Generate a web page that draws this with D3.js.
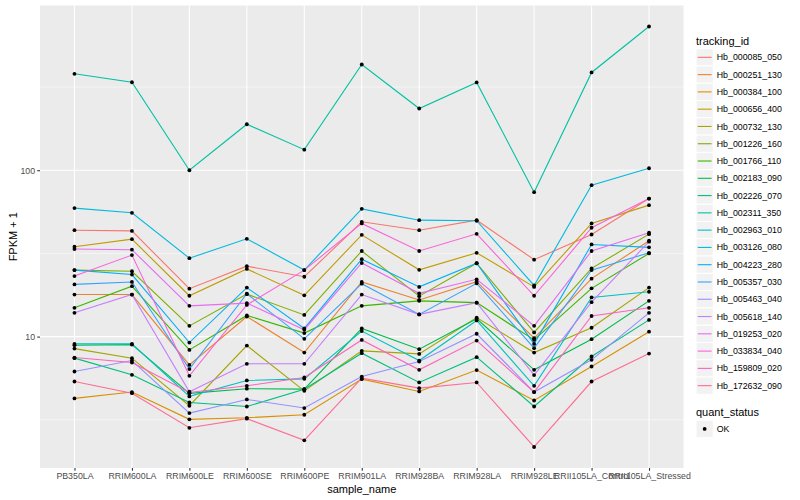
<!DOCTYPE html>
<html>
<head>
    <meta charset="utf-8">
    <title>FPKM by sample</title>
    <style>
        body {
            margin: 0;
            padding: 0;
            background: #ffffff;
        }
        svg {
            display: block;
            font-family: "Liberation Sans", Arial, sans-serif;
        }
        .grid-major {
            stroke: #ffffff;
            stroke-width: 1.07;
        }
        .grid-minor {
            stroke: #ffffff;
            stroke-width: 0.53;
        }
        .axis text {
            fill: #4d4d4d;
            font-size: 8.8px;
        }
        .axis line {
            stroke: #333333;
            stroke-width: 1.07;
        }
        .axis path {
            display: none;
        }
        .series-line {
            fill: none;
            stroke-width: 1.1;
        }
        .axis-title, .legend-title {
            font-size: 11px;
            fill: #000000;
        }
        .legend-text {
            font-size: 8.8px;
            fill: #000000;
        }
    </style>
</head>
<body>
    <svg id="chart" width="800" height="500"></svg>

    <script src="https://d3js.org/d3.v7.min.js"></script>
    <script>
        // categories on the x axis
        const sampleNames = [
            'PB350LA', 'RRIM600LA', 'RRIM600LE', 'RRIM600SE', 'RRIM600PE', 'RRIM901LA',
            'RRIM928BA', 'RRIM928LA', 'RRIM928LE', 'RRII105LA_Control', 'RRII105LA_Stressed'
        ];

        const trackingIds = [
            'Hb_000085_050', 'Hb_000251_130', 'Hb_000384_100', 'Hb_000656_400', 'Hb_000732_130',
            'Hb_001226_160', 'Hb_001766_110', 'Hb_002183_090', 'Hb_002226_070', 'Hb_002311_350',
            'Hb_002963_010', 'Hb_003126_080', 'Hb_004223_280', 'Hb_005357_030', 'Hb_005463_040',
            'Hb_005618_140', 'Hb_019253_020', 'Hb_033834_040', 'Hb_159809_020', 'Hb_172632_090'
        ];

        const quantStatus = ['OK'];

        // FPKM + 1, one value per sample
        const hb_000085_050 = [43.6, 43.2, 19.4, 26.5, 22.9, 49.0, 43.6, 50.1, 29.0, 41.1, 67.6];
        const hb_000251_130 = [17.9, 17.9, 6.76, 13.2, 8.02, 21.3, 16.6, 21.4, 9.78, 22.3, 37.7];
        const hb_000384_100 = [4.25, 4.64, 3.18, 3.25, 3.39, 5.55, 4.68, 6.29, 4.13, 6.61, 10.7];
        const hb_000656_400 = [34.7, 38.5, 17.6, 25.5, 17.7, 40.9, 25.2, 31.9, 19.9, 47.9, 61.7];
        const hb_000732_130 = [8.47, 7.42, 3.84, 8.83, 4.72, 8.21, 7.87, 13.0, 8.02, 11.3, 19.7];
        const hb_001226_160 = [25.1, 24.7, 11.6, 18.0, 13.5, 32.7, 17.5, 27.6, 10.6, 25.7, 41.3];
        const hb_001766_110 = [14.9, 20.1, 8.32, 13.4, 10.5, 15.3, 16.4, 16.0, 9.55, 19.5, 31.6];
        const hb_002183_090 = [8.88, 8.95, 4.56, 4.86, 4.83, 11.2, 8.40, 12.8, 6.31, 9.65, 16.4];
        const hb_002226_070 = [7.42, 5.89, 4.02, 3.80, 4.83, 7.95, 5.30, 7.52, 3.80, 7.59, 12.6];
        const hb_002311_350 = [380, 338, 100, 189, 133, 432, 235, 337, 73.8, 387, 731];
        const hb_002963_010 = [9.04, 9.04, 4.37, 5.45, 5.57, 10.8, 7.18, 12.5, 5.06, 17.2, 18.6];
        const hb_003126_080 = [59.2, 55.5, 29.6, 38.7, 25.1, 58.6, 50.1, 49.7, 20.3, 81.3, 102.8];
        const hb_004223_280 = [25.1, 23.6, 9.21, 19.7, 11.2, 29.2, 19.9, 27.6, 9.04, 35.8, 34.4];
        const hb_005357_030 = [20.6, 21.3, 6.38, 18.1, 9.69, 20.8, 13.6, 20.9, 8.52, 25.1, 31.9];
        const hb_005463_040 = [6.17, 7.18, 3.47, 4.19, 3.72, 5.75, 7.08, 10.4, 4.64, 7.25, 13.9];
        const hb_005618_140 = [13.9, 17.9, 4.66, 6.86, 6.86, 17.9, 13.6, 16.0, 5.87, 16.1, 37.2];
        const hb_019253_020 = [33.6, 33.3, 15.3, 15.9, 11.0, 27.7, 18.2, 22.1, 11.6, 32.7, 42.1];
        const hb_033834_040 = [23.1, 30.9, 5.81, 15.5, 25.1, 47.9, 32.7, 41.5, 17.6, 45.1, 67.6];
        const hb_159809_020 = [7.48, 6.98, 4.61, 5.06, 5.68, 9.55, 6.31, 9.46, 4.64, 13.3, 14.9];
        const hb_172632_090 = [5.37, 4.57, 2.83, 3.21, 2.38, 5.63, 4.90, 5.30, 2.17, 5.37, 7.91];

        const fpkmSeries = [
            hb_000085_050, hb_000251_130, hb_000384_100, hb_000656_400, hb_000732_130,
            hb_001226_160, hb_001766_110, hb_002183_090, hb_002226_070, hb_002311_350,
            hb_002963_010, hb_003126_080, hb_004223_280, hb_005357_030, hb_005463_040,
            hb_005618_140, hb_019253_020, hb_033834_040, hb_159809_020, hb_172632_090
        ];

        const yMajorTicks = [10, 100];

        // ggplot default hue palette for 20 levels
        const palette = [
            '#F8766D', '#EA8331', '#D89000', '#C09B00', '#A3A500', '#7CAE00', '#39B600',
            '#00BB4E', '#00BF7D', '#00C1A3', '#00BFC4', '#00BAE0', '#00B0F6', '#35A2FF',
            '#9590FF', '#C77CFF', '#E76BF3', '#FA62DB', '#FF62BC', '#FF6C91'
        ];

        const svg = d3.select('#chart');
        const panel = { left: 40, right: 683.5, top: 5.5, bottom: 468 };

        const x = d3.scalePoint()
            .domain(sampleNames)
            .range([panel.left, panel.right])
            .padding(0.6);

        // log scale with ggplot's 5% expansion in log space
        const allValues = fpkmSeries.flat();
        const logMin = Math.log10(d3.min(allValues));
        const logMax = Math.log10(d3.max(allValues));
        const pad = (logMax - logMin) * 0.05;
        const y = d3.scaleLog()
            .domain([Math.pow(10, logMin - pad), Math.pow(10, logMax + pad)])
            .range([panel.bottom, panel.top]);

        const color = d3.scaleOrdinal().domain(trackingIds).range(palette);

        // panel background
        svg.append('rect')
            .attr('x', panel.left)
            .attr('y', panel.top)
            .attr('width', panel.right - panel.left)
            .attr('height', panel.bottom - panel.top)
            .attr('fill', '#EBEBEB');

        // minor grid: midpoints between decades
        const minorTicks = [0.5, 1.5, 2.5].map(e => Math.pow(10, e));
        svg.append('g').selectAll('line')
            .data(minorTicks)
            .join('line')
            .attr('class', 'grid-minor')
            .attr('x1', panel.left)
            .attr('x2', panel.right)
            .attr('y1', d => y(d))
            .attr('y2', d => y(d));

        svg.append('g').selectAll('line')
            .data(yMajorTicks)
            .join('line')
            .attr('class', 'grid-major')
            .attr('x1', panel.left)
            .attr('x2', panel.right)
            .attr('y1', d => y(d))
            .attr('y2', d => y(d));

        svg.append('g').selectAll('line')
            .data(sampleNames)
            .join('line')
            .attr('class', 'grid-major')
            .attr('x1', d => x(d))
            .attr('x2', d => x(d))
            .attr('y1', panel.top)
            .attr('y2', panel.bottom);

        // lines, one per tracking id
        const line = d3.line()
            .x((d, i) => x(sampleNames[i]))
            .y(d => y(d));

        svg.append('g').selectAll('path')
            .data(fpkmSeries)
            .join('path')
            .attr('class', 'series-line')
            .attr('stroke', (d, i) => color(trackingIds[i]))
            .attr('d', line);

        // points
        const points = [];
        fpkmSeries.forEach((values, s) => {
            values.forEach((v, i) => points.push({ sample: sampleNames[i], value: v }));
        });
        svg.append('g').selectAll('circle')
            .data(points)
            .join('circle')
            .attr('cx', d => x(d.sample))
            .attr('cy', d => y(d.value))
            .attr('r', 1.9)
            .attr('fill', '#000000');

        // axes
        svg.append('g')
            .attr('class', 'axis')
            .attr('transform', `translate(${panel.left},0)`)
            .call(d3.axisLeft(y).tickValues(yMajorTicks).tickFormat(d3.format('d'))
                .tickSize(2.75).tickPadding(2.2));

        svg.append('g')
            .attr('class', 'axis')
            .attr('transform', `translate(0,${panel.bottom})`)
            .call(d3.axisBottom(x).tickSize(2.75).tickPadding(2.2));

        // axis titles
        svg.append('text')
            .attr('class', 'axis-title')
            .attr('x', (panel.left + panel.right) / 2)
            .attr('y', 493)
            .attr('text-anchor', 'middle')
            .text('sample_name');

        svg.append('text')
            .attr('class', 'axis-title')
            .attr('transform', `translate(17,${(panel.top + panel.bottom) / 2}) rotate(-90)`)
            .attr('text-anchor', 'middle')
            .text('FPKM + 1');

        // legend: tracking_id
        const keySize = 17.28;
        const legendX = 696;
        const legend = svg.append('g');

        legend.append('text')
            .attr('class', 'legend-title')
            .attr('x', legendX)
            .attr('y', 44.5)
            .text('tracking_id');

        const keys = legend.selectAll('g.key')
            .data(trackingIds)
            .join('g')
            .attr('class', 'key')
            .attr('transform', (d, i) => `translate(${legendX},${48.7 + i * keySize})`);

        keys.append('rect')
            .attr('width', keySize)
            .attr('height', keySize)
            .attr('fill', '#F2F2F2')
            .attr('stroke', '#ffffff')
            .attr('stroke-width', 1);

        keys.append('line')
            .attr('x1', 1.7)
            .attr('x2', keySize - 1.7)
            .attr('y1', keySize / 2)
            .attr('y2', keySize / 2)
            .attr('stroke', d => color(d))
            .attr('stroke-width', 1.1);

        keys.append('text')
            .attr('class', 'legend-text')
            .attr('x', keySize + 3.5)
            .attr('y', keySize / 2)
            .attr('dy', '0.35em')
            .text(d => d);

        // legend: quant_status
        legend.append('text')
            .attr('class', 'legend-title')
            .attr('x', legendX)
            .attr('y', 416)
            .text('quant_status');

        const statusKeys = legend.selectAll('g.status')
            .data(quantStatus)
            .join('g')
            .attr('class', 'status')
            .attr('transform', (d, i) => `translate(${legendX},${420.3 + i * keySize})`);

        statusKeys.append('rect')
            .attr('width', keySize)
            .attr('height', keySize)
            .attr('fill', '#F2F2F2')
            .attr('stroke', '#ffffff')
            .attr('stroke-width', 1);

        statusKeys.append('circle')
            .attr('cx', keySize / 2)
            .attr('cy', keySize / 2)
            .attr('r', 1.9)
            .attr('fill', '#000000');

        statusKeys.append('text')
            .attr('class', 'legend-text')
            .attr('x', keySize + 3.5)
            .attr('y', keySize / 2)
            .attr('dy', '0.35em')
            .text(d => d);
    </script>
</body>
</html>
